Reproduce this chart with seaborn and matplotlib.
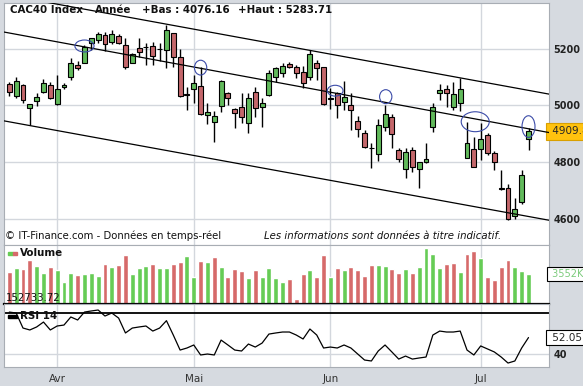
import matplotlib
matplotlib.use("Agg")
import matplotlib.pyplot as plt
import seaborn as sns
import numpy as np
from matplotlib.patches import Ellipse, Rectangle

# daily candles, 23 Mar -> 10 Jul
opens = [5074, 5034, 5072, 4990, 5016, 5048, 5072, 5004, 5064, 5101,
         5142, 5150, 5218, 5230, 5247, 5224, 5244, 5212, 5150, 5201,
         5205, 5210, 5197, 5195, 5253, 5171, 5040, 5057, 5069, 4967,
         4941, 4998, 5045, 4987, 4996, 4938, 5046, 4994, 5037, 5101,
         5115, 5145, 5134, 5119, 5101, 5150, 5134, 5026, 5043, 5011,
         5002, 4947, 4902, 4851, 4829, 4924, 4959, 4843, 4776, 4843,
         4776, 4803, 4924, 5043, 5057, 4994, 5008, 4817, 4846, 4847,
         4896, 4834, 4710, 4709, 4612, 4662, 4882]
highs = [5084, 5101, 5074, 5006, 5043, 5092, 5084, 5107, 5080, 5166,
         5156, 5212, 5237, 5259, 5257, 5265, 5250, 5236, 5183, 5238,
         5218, 5224, 5218, 5284, 5253, 5198, 5066, 5107, 5136, 5008,
         4981, 5089, 5048, 4991, 5043, 5043, 5066, 5025, 5125, 5136,
         5148, 5152, 5142, 5140, 5195, 5160, 5136, 5061, 5048, 5086,
         5043, 4964, 4914, 4868, 4952, 5002, 4969, 4852, 4852, 4855,
         4803, 4867, 5008, 5074, 5072, 5081, 5095, 4943, 4891, 4940,
         4902, 4840, 4774, 4723, 4674, 4774, 4922]
lows = [5033, 5027, 5008, 4932, 4999, 5043, 5023, 5002, 5058, 5089,
        5125, 5148, 5195, 5218, 5191, 5215, 5215, 5127, 5148, 5171,
        5142, 5142, 5156, 5131, 5136, 5031, 4984, 5008, 4967, 4934,
        4871, 4976, 5002, 4920, 4938, 4902, 4961, 4926, 5033, 5084,
        5101, 5133, 5095, 5060, 5089, 5089, 5002, 4988, 4957, 4984,
        4914, 4891, 4852, 4780, 4806, 4911, 4850, 4803, 4745, 4768,
        4709, 4797, 4908, 5019, 4996, 4984, 4981, 4815, 4785, 4809,
        4826, 4774, 4703, 4598, 4601, 4653, 4844]
closes = [5048, 5086, 5019, 5004, 5030, 5078, 5027, 5057, 5072, 5148,
          5133, 5206, 5236, 5250, 5215, 5250, 5218, 5136, 5180, 5187,
          5207, 5175, 5199, 5265, 5169, 5034, 5038, 5078, 4969, 4978,
          4963, 5086, 5025, 4973, 4959, 5025, 4990, 5008, 5113, 5131,
          5140, 5136, 5113, 5078, 5180, 5133, 5004, 5024, 5002, 5031,
          4983, 4918, 4853, 4849, 4932, 4969, 4899, 4811, 4837, 4785,
          4801, 4811, 4994, 5054, 5043, 5039, 5058, 4869, 4785, 4881,
          4832, 4803, 4708, 4601, 4636, 4756, 4909]
volumes_k = [3812, 4198, 4085, 5138, 4458, 3699, 4379, 4005, 2680, 3699,
             3439, 3552, 3699, 3325, 4685, 4311, 4572, 5705, 3552, 4198,
             4458, 4685, 4198, 4198, 4685, 4912, 5591, 3178, 5025, 4878,
             5478, 4345, 3178, 4119, 3926, 3065, 4005, 3178, 4198, 3065,
             2646, 2951, 720, 3552, 4005, 3178, 5705, 3178, 4198, 4005,
             4311, 4005, 3325, 4572, 4572, 4458, 4119, 3699, 4119, 3699,
             4379, 6464, 5818, 4198, 4685, 4832, 3812, 5818, 6158, 5331,
             3178, 2872, 4311, 5138, 4311, 3926, 3552]
rsi14 = [70.7, 70.0, 59.0, 57.6, 59.8, 63.4, 57.6, 60.5, 61.2, 67.1,
         64.9, 70.7, 71.5, 72.2, 67.8, 70.0, 66.3, 55.4, 59.0, 59.8,
         60.5, 56.8, 59.0, 64.4, 53.9, 42.9, 44.4, 46.6, 39.3, 40.0,
         39.3, 50.2, 46.6, 42.9, 42.2, 47.3, 45.1, 48.0, 54.6, 55.4,
         56.1, 56.1, 53.9, 51.0, 58.3, 53.9, 44.4, 45.1, 44.4, 46.6,
         44.4, 40.0, 35.6, 34.9, 42.2, 46.6, 41.5, 36.3, 38.5, 36.3,
         37.1, 37.8, 53.9, 56.8, 56.1, 56.1, 56.8, 42.9, 39.3, 45.9,
         43.7, 41.5, 37.8, 33.4, 34.9, 44.4, 52.05]

month_pos = [7, 27, 47, 69]
month_labels = ["Avr", "Mai", "Jun", "Jul"]
price_ticks = [4600, 4800, 5000, 5200]

# drawn channel lines (start/end)
trend_x = [-0.78, 79.0]
trend_upper = [5390, 5040]
trend_mid = [5258, 4905]
trend_low = [4946, 4597]

# blue circles drawn on the chart: x, price, width, height
circ_x = [11.0, 28.0, 47.7, 55.1, 68.2, 76.0]
circ_y = [5209, 5133, 5052, 5031, 4943, 4926]
circ_w = [2.8, 1.8, 2.3, 1.8, 4.1, 1.9]
circ_h = [42, 52, 38, 49, 70, 76]

BG = "#D6DAE0"
GRID = "#D3D7DD"
GREEN = "#62BA5C"
RED = "#C4676B"
VGREEN = "#66CC55"
VRED = "#D66A6A"

W, H = 583, 386
sns.set_style("white")
plt.rcParams['font.family'] = ['DejaVu Sans']

fig = plt.figure(figsize=(W / 100, H / 100), dpi=100, facecolor=BG)


def px_axes(x0, y0, x1, y1):
    return fig.add_axes([x0 / W, 1 - y1 / H, (x1 - x0) / W, (y1 - y0) / H])


def px_text(x, y, s, **kw):
    fig.text(x / W, 1 - y / H, s, va="center", **kw)


ax1 = px_axes(4, 3, 549, 245)
ax2 = px_axes(4, 245, 549, 304)
ax3 = px_axes(4, 304, 549, 367)

idx = np.arange(len(closes))
o = np.array(opens)
c = np.array(closes)
up = c >= o

for ax in (ax1, ax2, ax3):
    ax.set_facecolor("white")
    ax.set_xlim(-0.78, 79.0)
    for p in month_pos:
        ax.axvline(p, color=GRID, lw=1, zorder=0)
    for s in ax.spines.values():
        s.set_color("#A8ADB4")
        s.set_linewidth(0.8)
    ax.set_xticks([])

# --- price panel
ax1.set_ylim(4510, 5360)
for p in price_ticks:
    ax1.axhline(p, color=GRID, lw=1, zorder=0)
ax1.vlines(idx, lows, highs, color="black", lw=1, zorder=2)
body = np.maximum(np.abs(c - o), 2)
ax1.bar(idx, body, bottom=np.minimum(o, c), width=0.72,
        color=np.where(up, GREEN, RED), edgecolor="black", lw=0.8, zorder=3)
for yy in (trend_upper, trend_mid, trend_low):
    sns.lineplot(x=trend_x, y=yy, ax=ax1, color="black", lw=0.9, zorder=4)
for ex, ey, ew, eh in zip(circ_x, circ_y, circ_w, circ_h):
    ax1.add_patch(Ellipse((ex, ey), ew, eh, fill=False, ec="#3B4BA8", lw=0.8, zorder=5))
ax1.yaxis.tick_right()
ax1.set_yticks(price_ticks)
ax1.set_yticklabels([str(p) for p in price_ticks], fontsize=7, fontweight="bold", color="#222222")
ax1.tick_params(axis="y", length=0, pad=3)
ax1.text(1.0, closes[-1], " 4909.80", transform=ax1.get_yaxis_transform(),
         fontsize=7.5, va="center", ha="left", clip_on=False,
         bbox=dict(boxstyle="square,pad=0.3", fc="#FFC20E", ec="#D9A000", lw=0.8))

# --- volume panel
vcol = [VRED] + [VGREEN if closes[i] >= closes[i - 1] else VRED for i in range(1, len(closes))]
ax2.bar(idx, volumes_k, width=0.72, color=vcol, zorder=2)
ax2.set_ylim(153, 6840)
ax2.set_yticks([])
ax2.spines["bottom"].set_color("black")
ax2.spines["bottom"].set_linewidth(1.6)
ax2.text(1.0, volumes_k[-1], " 3552K  ", transform=ax2.get_yaxis_transform(),
         fontsize=7, color="#7CCB7C", va="center", ha="left", clip_on=False,
         bbox=dict(boxstyle="square,pad=0.2", fc="white", ec="black", lw=0.8))

# --- RSI panel
ax3.set_ylim(30.5, 76.6)
ax3.axhline(40, color=GRID, lw=1, zorder=0)
ax3.axhline(70, color="black", lw=1.3, zorder=1)
sns.lineplot(x=idx, y=rsi14, ax=ax3, color="black", lw=0.9, zorder=3)
ax3.yaxis.tick_right()
ax3.set_yticks([40])
ax3.set_yticklabels(["40"], fontsize=7, fontweight="bold", color="#222222")
ax3.tick_params(axis="y", length=0, pad=3)
ax3.text(1.0, rsi14[-1], " 52.05  ", transform=ax3.get_yaxis_transform(),
         fontsize=7.5, va="center", ha="left", clip_on=False,
         bbox=dict(boxstyle="square,pad=0.25", fc="white", ec="black", lw=0.8))
ax3.set_xticks(month_pos)
ax3.set_xticklabels(month_labels, fontsize=7.5, color="#333333")
ax3.tick_params(axis="x", length=0, pad=5)
ax3.set_xlabel("")
ax3.set_ylabel("")
ax1.set_xlabel("")
ax1.set_ylabel("")

# --- header and annotations
px_text(10, 10, "CAC40 Index", fontsize=7.4, fontweight="bold", color="#111111")
px_text(95, 10, "Année", fontsize=7.4, fontweight="bold", color="#111111")
px_text(142, 10, "+Bas : 4076.16", fontsize=7.4, fontweight="bold", color="#111111")
px_text(238, 10, "+Haut : 5283.71", fontsize=7.4, fontweight="bold", color="#111111")
px_text(5, 236, "© IT-Finance.com - Données en temps-réel", fontsize=7.3, color="#111111")
px_text(264, 236, "Les informations sont données à titre indicatif.", fontsize=7.3,
        style="italic", color="#111111")
px_text(20, 253, "Volume", fontsize=7.4, fontweight="bold", color="#111111")
px_text(6, 298, "152733.72", fontsize=7.3, color="#111111")
px_text(20, 316, "RSI 14", fontsize=7.4, fontweight="bold", color="#111111")
fig.patches.append(Rectangle((8 / W, 1 - 254.5 / H), 4.5 / W, 3 / H, color=VGREEN,
                             transform=fig.transFigure, figure=fig))
fig.patches.append(Rectangle((12.5 / W, 1 - 254.5 / H), 4.5 / W, 3 / H, color=VRED,
                             transform=fig.transFigure, figure=fig))
fig.patches.append(Rectangle((8 / W, 1 - 317.5 / H), 9 / W, 3 / H, color="black",
                             transform=fig.transFigure, figure=fig))

fig.savefig("out.png", dpi=100, facecolor=BG)
